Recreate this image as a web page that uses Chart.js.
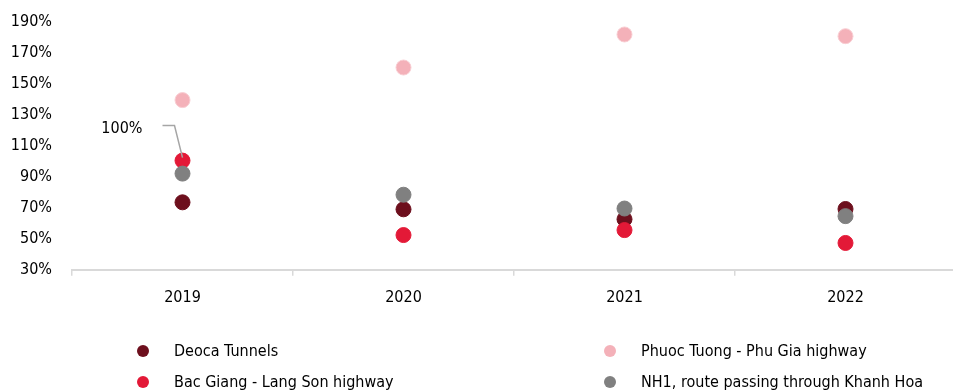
<!DOCTYPE html>
<html>
<head>
<meta charset="UTF-8">
<title>Traffic index</title>
<script src="https://cdn.jsdelivr.net/npm/chart.js@4.4.0/dist/chart.umd.min.js"></script>
<style>
    body { margin: 0; padding: 0; background: #fff; }
    #wrap { position: relative; width: 953px; height: 392px; }
    #legend { position: absolute; left: 0; top: 0; width: 953px; height: 392px; pointer-events: none; }
    .item { position: absolute; font: 16px "DejaVu Sans Condensed", "Liberation Sans", Arial, sans-serif; color: #000; white-space: nowrap; }
    .dot { position: absolute; width: 12px; height: 12px; border-radius: 50%; left: -37px; top: 4px; }
</style>
</head>
<body>
<div id="wrap">
    <canvas id="myChart" width="953" height="392"></canvas>
    <div id="legend"></div>
</div>
<script>
var years = ["2019", "2020", "2021", "2022"];
var deoca = [73.5, 69, 62.6, 69.2];
var phuocTuong = [139.4, 160.4, 181.7, 180.6];
var bacGiang = [100.4, 52.4, 55.6, 47.3];
var nh1 = [92, 78.4, 69.5, 64.6];
var yTicks = [30, 50, 70, 90, 110, 130, 150, 170, 190];

var FONT = '"DejaVu Sans Condensed", "Liberation Sans", Arial, sans-serif';

// legend positions: [left of text, top]
var legendItems = [
    { label: "Deoca Tunnels", color: "#6d0f1d", x: 174, y: 341 },
    { label: "Phuoc Tuong - Phu Gia highway", color: "#f4b1b9", x: 641, y: 341 },
    { label: "Bac Giang - Lang Son highway", color: "#e31937", x: 174, y: 372 },
    { label: "NH1, route passing through Khanh Hoa", color: "#808080", x: 641, y: 372 }
];

var legendDiv = document.getElementById('legend');
legendItems.forEach(function (it) {
    var d = document.createElement('div');
    d.className = 'item';
    d.style.left = it.x + 'px';
    d.style.top = it.y + 'px';
    d.innerHTML = '<span class="dot" style="background:' + it.color + '"></span>' + it.label;
    legendDiv.appendChild(d);
});

function ds(label, data, color, border, order) {
    return {
        label: label,
        data: data,
        showLine: false,
        backgroundColor: color,
        borderColor: border,
        borderWidth: 1,
        pointRadius: 7.5,
        pointHoverRadius: 7.5,
        order: order
    };
}

// stretch the plot to the right edge like the original (axis runs off the canvas)
var stretchPlugin = {
    id: 'stretch',
    afterLayout: function (chart) {
        var x = chart.scales.x;
        chart.chartArea.right = 956;
        chart.chartArea.width = 956 - chart.chartArea.left;
        x.right = 956;
        x.width = 956 - x.left;
        x.configure();
    }
};

// leader line + "100%" label next to the 2019 Bac Giang point
var calloutPlugin = {
    id: 'callout',
    afterDatasetsDraw: function (chart) {
        var meta = chart.getDatasetMeta(2);
        var p = meta.data[0];
        var c = chart.ctx;
        c.save();
        c.strokeStyle = '#a6a6a6';
        c.lineWidth = 1.5;
        c.beginPath();
        c.moveTo(p.x - 20, p.y - 35);
        c.lineTo(p.x - 8, p.y - 35);
        c.lineTo(p.x, p.y - 3);
        c.stroke();
        c.fillStyle = '#000';
        c.font = '16px ' + FONT;
        c.textAlign = 'right';
        c.textBaseline = 'middle';
        c.fillText('100%', p.x - 40, p.y - 32);
        c.restore();
    }
};

var ctx = document.getElementById('myChart').getContext('2d');
var chart = new Chart(ctx, {
    type: 'line',
    data: {
        labels: years,
        datasets: [
            ds("Deoca Tunnels", deoca, "#6d0f1d", "#6d0f1d", 3),
            ds("Phuoc Tuong - Phu Gia highway", phuocTuong, "#f4b1b9", "#f8cdd2", 2),
            ds("Bac Giang - Lang Son highway", bacGiang, "#e31937", "#e31937", 1),
            ds("NH1, route passing through Khanh Hoa", nh1, "#808080", "#808080", 0)
        ]
    },
    plugins: [stretchPlugin, calloutPlugin],
    options: {
        responsive: false,
        animation: false,
        layout: { padding: { top: 5, right: 0, bottom: 73, left: 0 } },
        plugins: {
            legend: { display: false },
            tooltip: { enabled: false }
        },
        scales: {
            x: {
                offset: true,
                grid: {
                    offset: true,
                    drawOnChartArea: false,
                    drawTicks: true,
                    tickLength: 6,
                    color: '#d9d9d9',
                    lineWidth: 1.5
                },
                border: { color: '#d9d9d9', width: 2 },
                ticks: { color: '#000', font: { family: FONT, size: 16 }, padding: 12 }
            },
            y: {
                min: 30,
                max: 190,
                afterBuildTicks: function (axis) {
                    axis.ticks = yTicks.map(function (v) { return { value: v }; });
                },
                afterFit: function (axis) { axis.width = 72; },
                grid: { display: false },
                border: { display: false },
                ticks: {
                    color: '#000',
                    padding: 12,
                    font: { family: FONT, size: 16 },
                    callback: function (v) { return v + '%'; }
                }
            }
        }
    }
});
</script>
</body>
</html>
